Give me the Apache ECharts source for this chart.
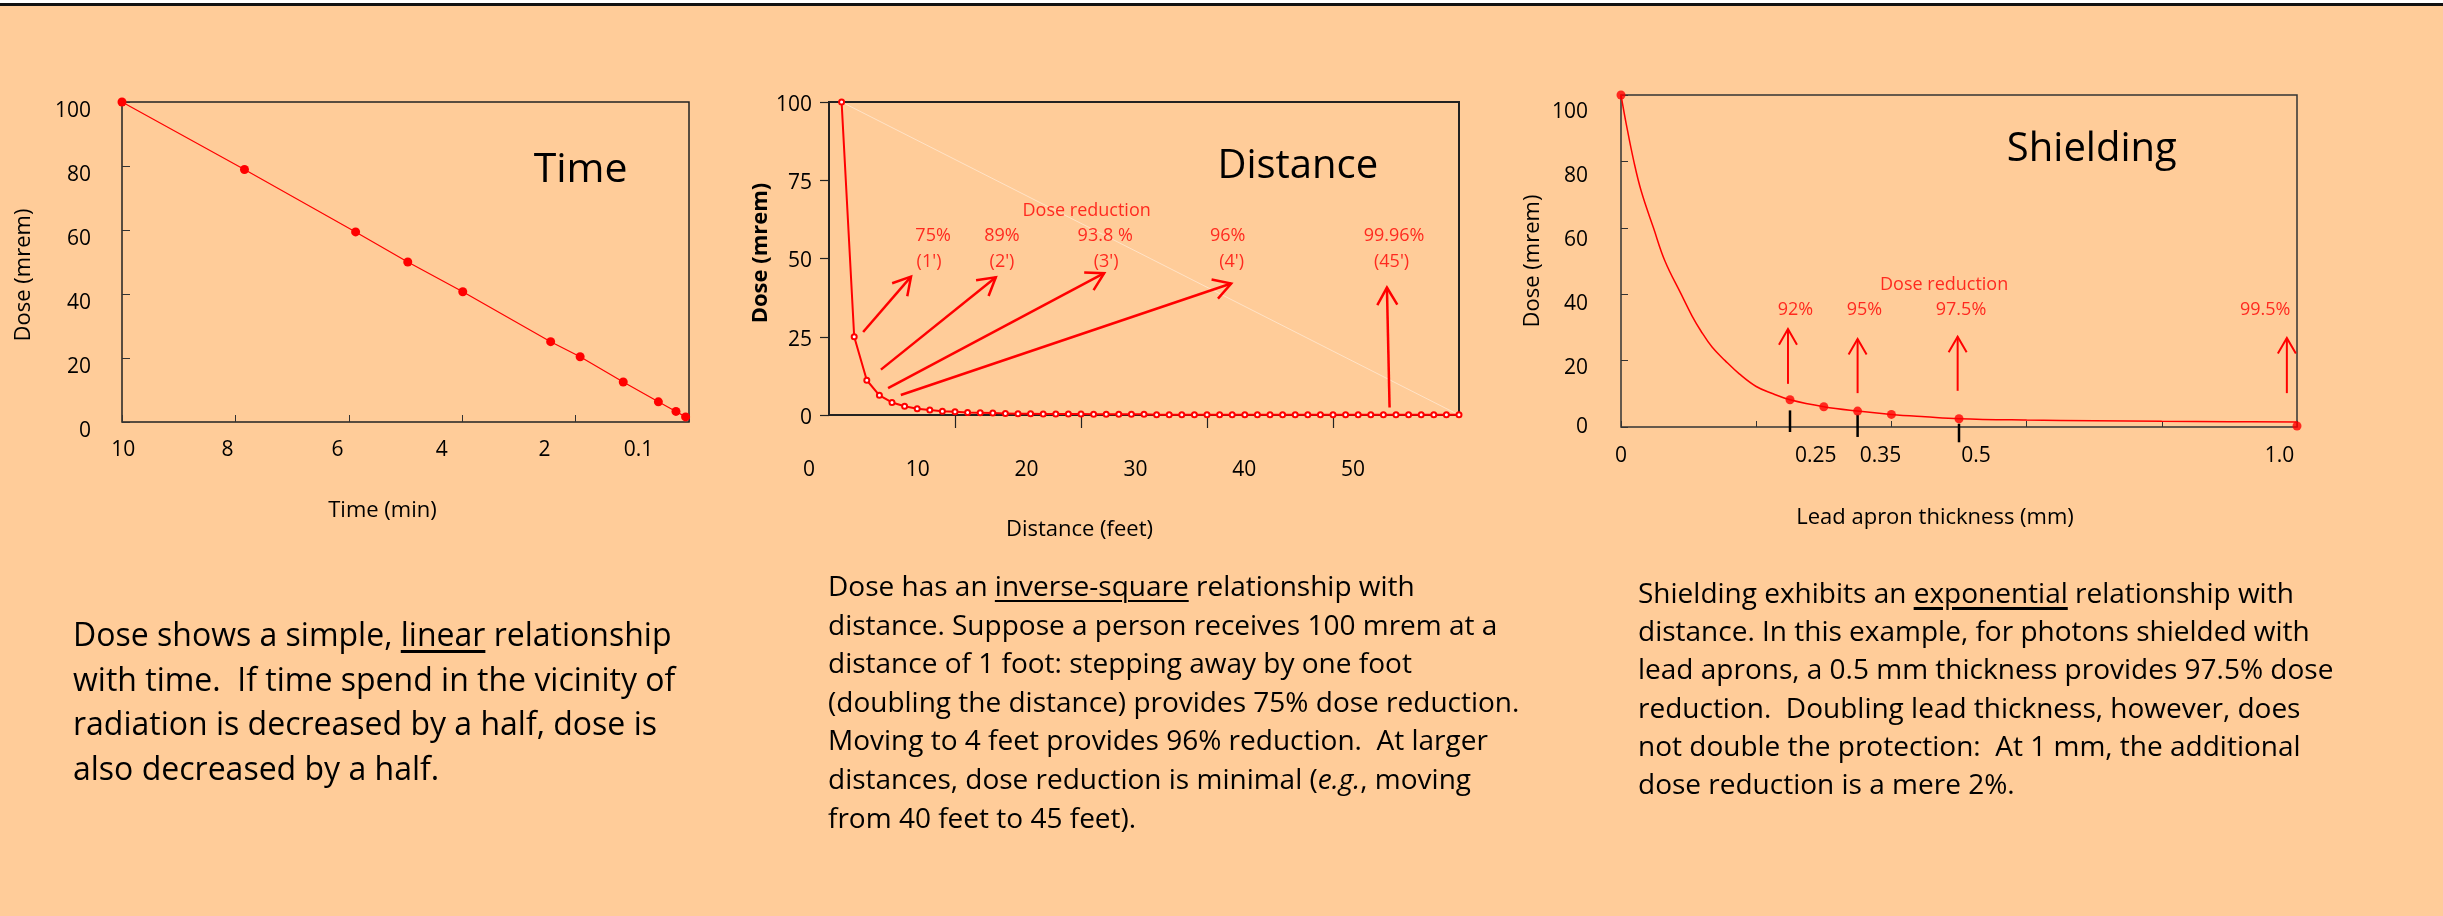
<!DOCTYPE html>
<html>
<head>
<meta charset="utf-8">
<script src="https://cdn.jsdelivr.net/npm/echarts@6/dist/echarts.min.js"></script>
<style>
  html,body{margin:0;padding:0;}
  body{width:2443px;height:916px;overflow:hidden;background:#FFCC99;position:relative;font-family:'Open Sans','DejaVu Sans',sans-serif;}
  #white{position:absolute;left:0;top:0;width:2443px;height:3px;background:#fff;}
  #bar{position:absolute;left:0;top:3px;width:2443px;height:3px;background:#111;}
  #chart{position:absolute;left:0;top:0;width:2443px;height:916px;}
  .p{position:absolute;white-space:nowrap;color:#000;}
  .p u{text-underline-offset:4px;}
</style>
</head>
<body>
<div id="white"></div>
<div id="bar"></div>
<div id="chart"></div>
<div class="p" style="left:73px;top:612px;font-size:32px;line-height:44.5px;">Dose shows a simple, <u style="text-decoration-thickness:3px">linear</u> relationship<br>with time.&nbsp; If time spend in the vicinity of<br>radiation is decreased by a half, dose is<br>also decreased by a half.</div>
<div class="p" style="left:828px;top:566px;font-size:28px;line-height:38.6px;">Dose has an <u style="text-decoration-thickness:2px">inverse-square</u> relationship with<br>distance. Suppose a person receives 100 mrem at a<br>distance of 1 foot: stepping away by one foot<br>(doubling the distance) provides 75% dose reduction.<br>Moving to 4 feet provides 96% reduction.&nbsp; At larger<br>distances, dose reduction is minimal (<i>e.g.</i>, moving<br>from 40 feet to 45 feet).</div>
<div class="p" style="left:1638px;top:573px;font-size:28px;line-height:38.2px;">Shielding exhibits an <u style="text-decoration-thickness:3px">exponential</u> relationship with<br>distance. In this example, for photons shielded with<br>lead aprons, a 0.5 mm thickness provides 97.5% dose<br>reduction.&nbsp; Doubling lead thickness, however, does<br>not double the protection:&nbsp; At 1 mm, the additional<br>dose reduction is a mere 2%.</div>
<script>
// ---------- Time panel ----------
const timeMin  = [10, 7.84, 5.88, 4.96, 3.99, 2.44, 1.92, 1.16, 0.54, 0.23, 0.06];
const timeDose = [100, 78.9, 59.4, 50.0, 40.7, 25.1, 20.4, 12.5, 6.3, 3.3, 1.6];
const timeTickLabels = ['10', '8', '6', '4', '2', '0.1'];
const timeTickLabelPos = [9.98, 8.14, 6.20, 4.36, 2.55, 0.89];

// ---------- Distance panel ----------
const distFeet = [1,2,3,4,5,6,7,8,9,10,11,12,13,14,15,16,17,18,19,20,21,22,23,24,25,26,27,28,29,30,31,32,33,34,35,36,37,38,39,40,41,42,43,44,45,46,47,48,49,50];
const distDose = [100,25,11.1,6.3,4.0,2.8,2.0,1.6,1.2,1.0,0.8,0.7,0.6,0.5,0.4,0.4,0.3,0.3,0.3,0.3,0.2,0.2,0.2,0.2,0.2,0.1,0.1,0.1,0.1,0.1,0.1,0.1,0.1,0.1,0.1,0.1,0.1,0.1,0.1,0.1,0.05,0.05,0.05,0.05,0.05,0.05,0.05,0.05,0.05,0.05];
const distTickLabels = ['0', '10', '20', '30', '40', '50'];
const distNoteText = ['Dose reduction', '75%', '(1\')', '89%', '(2\')', '93.8 %', '(3\')', '96%', '(4\')', '99.96%', '(45\')'];
const distNoteX    = [20.45, 8.26, 7.94, 13.73, 13.73, 21.92, 22.0, 31.64, 31.96, 44.85, 44.65];
const distNoteY    = [65.2, 57.2, 48.8, 57.2, 48.8, 57.2, 48.8, 57.2, 48.8, 57.2, 48.8];
// arrows: [fromX, fromY, toX, toY]
const distArrows = [[2.71,26.5,6.51,44.2],[4.12,14.5,13.24,44.0],[4.69,8.6,21.84,45.3],[5.70,6.4,31.92,42.0],[44.49,2.4,44.28,40.7]];
const distFaintLine = [[1,100,50,0]];

// ---------- Shielding panel ----------
const leadMm   = [0, 0.25, 0.30, 0.35, 0.40, 0.50, 1.0];
const leadDose = [100, 8.2, 6.1, 4.8, 3.8, 2.5, 0.3];
const leadCurveMm   = [0, 0.008, 0.019, 0.03, 0.048, 0.065, 0.089, 0.105, 0.118, 0.135, 0.154, 0.175, 0.2, 0.225, 0.25, 0.30, 0.35, 0.40, 0.45, 0.50, 0.60, 0.70, 0.80, 0.90, 1.0];
const leadCurveDose = [100, 91, 80, 71, 60, 50, 40, 33.5, 29, 24, 20, 16, 12.2, 10, 8.2, 6.1, 4.8, 3.8, 3.1, 2.5, 2.1, 1.9, 1.7, 1.6, 1.5];
const leadXTickLabels = ['0', '0.25', '0.35', '0.5', '1.0'];
const leadXTickLabelPos = [0, 0.288, 0.384, 0.525, 0.974];
const leadYTickLabels = ['100', '80', '60', '40', '20', '0'];
const leadYTickLabelPos = [95, 75.6, 56.4, 37, 17.8, 0];
const leadNoteText = ['Dose reduction', '92%', '95%', '97.5%', '99.5%'];
const leadNoteX    = [0.478, 0.258, 0.360, 0.503, 0.953];
const leadNoteY    = [42.7, 35.2, 35.2, 35.2, 35.2];
const leadArrows = [[0.247,13.0,0.247,29.5],[0.35,10.2,0.35,26.5],[0.498,10.9,0.498,27.2],[0.985,10.2,0.985,26.8]];
const leadMarks  = [[0.25,5.0,0.25,-1.5],[0.35,3.7,0.35,-3.0],[0.5,1.0,0.5,-4.6]];

const FONT = "'Open Sans','DejaVu Sans',sans-serif";
const RED = '#FF0000';

function zip(a, b) { return a.map((v, i) => [v, b[i]]); }
function mapLabel(pos, txt) {
  return function (v) {
    for (let i = 0; i < pos.length; i++) if (Math.abs(pos[i] - v) < 1e-9) return txt[i];
    return '';
  };
}
function notes(xs, ys, ts) { return ts.map((t, i) => ({ value: [xs[i], ys[i]], name: t })); }
function segRender(color, width, headLen) {
  return function (params, api) {
    const p1 = api.coord([api.value(0), api.value(1)]);
    const p2 = api.coord([api.value(2), api.value(3)]);
    const children = [{ type: 'line', shape: { x1: p1[0], y1: p1[1], x2: p2[0], y2: p2[1] },
      style: { stroke: color, lineWidth: width, lineCap: 'butt' } }];
    if (headLen) {
      const dx = p2[0] - p1[0], dy = p2[1] - p1[1];
      const L = Math.sqrt(dx * dx + dy * dy);
      const ux = dx / L, uy = dy / L;
      const a = 30 * Math.PI / 180;
      const rot = (s) => [ux * Math.cos(s) - uy * Math.sin(s), ux * Math.sin(s) + uy * Math.cos(s)];
      const r1 = rot(a), r2 = rot(-a);
      children.push({ type: 'polyline', shape: { points: [
        [p2[0] - r1[0] * headLen, p2[1] - r1[1] * headLen], [p2[0], p2[1]],
        [p2[0] - r2[0] * headLen, p2[1] - r2[1] * headLen]] },
        style: { stroke: color, lineWidth: width, fill: null, lineJoin: 'miter' } });
    }
    return { type: 'group', children: children };
  };
}

const chart = echarts.init(document.getElementById('chart'), null, { renderer: 'canvas' });
const baseLabel = { fontSize: 21, color: '#000', fontFamily: FONT };
const nameStyle = { fontSize: 22, color: '#000', fontFamily: FONT };

chart.setOption({
  animation: false,
  textStyle: { fontFamily: FONT },
  graphic: [
    { type: 'text', x: 580.6, y: 170, style: { text: 'Time', font: '41px ' + FONT, fill: '#000', textAlign: 'center', textVerticalAlign: 'middle' } },
    { type: 'text', x: 1297.8, y: 167, style: { text: 'Distance', font: '40px ' + FONT, fill: '#000', textAlign: 'center', textVerticalAlign: 'middle' } },
    { type: 'text', x: 2091.8, y: 150, style: { text: 'Shielding', font: '40px ' + FONT, fill: '#000', textAlign: 'center', textVerticalAlign: 'middle' } }
  ],
  grid: [
    { left: 122, top: 102, width: 567, height: 320, show: true, borderColor: '#222', borderWidth: 1.5 },
    { left: 829, top: 102, width: 630, height: 313, show: true, borderColor: '#222', borderWidth: 2 },
    { left: 1621, top: 95, width: 676, height: 332, show: true, borderColor: '#333', borderWidth: 1.5 },
    { left: 809, top: 102, width: 544, height: 313, show: false }
  ],
  xAxis: [
    { gridIndex: 0, type: 'value', inverse: true, min: 0, max: 10, interval: 2, position: 'bottom',
      axisLine: { show: false, onZero: false }, splitLine: { show: false },
      axisTick: { inside: true, length: 7, lineStyle: { color: '#333' } },
      axisLabel: Object.assign({}, baseLabel, { customValues: timeTickLabelPos, formatter: mapLabel(timeTickLabelPos, timeTickLabels), margin: 18 }),
      name: 'Time (min)', nameLocation: 'middle', nameGap: 78,
      nameTextStyle: Object.assign({}, nameStyle, { padding: [0, 46, 0, 0] }) },
    { gridIndex: 1, type: 'value', min: 0, max: 50, interval: 10, position: 'bottom',
      axisLine: { show: false, onZero: false }, splitLine: { show: false },
      axisTick: { inside: false, length: 13, customValues: [10, 20, 30, 40], lineStyle: { color: '#222', width: 1.2 } },
      axisLabel: { show: false },
      name: 'Distance (feet)', nameLocation: 'middle', nameGap: 104,
      nameTextStyle: Object.assign({}, nameStyle, { padding: [0, 129, 0, 0] }) },
    { gridIndex: 2, type: 'value', min: 0, max: 1, interval: 0.2, position: 'bottom',
      axisLine: { show: false, onZero: false }, splitLine: { show: false },
      axisTick: { inside: true, length: 6, lineStyle: { color: '#333' } },
      axisLabel: Object.assign({}, baseLabel, { customValues: leadXTickLabelPos, formatter: mapLabel(leadXTickLabelPos, leadXTickLabels), margin: 19 }),
      name: 'Lead apron thickness (mm)', nameLocation: 'middle', nameGap: 80,
      nameTextStyle: Object.assign({}, nameStyle, { padding: [0, 48, 0, 0] }) },
    { gridIndex: 3, type: 'category', data: distTickLabels, boundaryGap: false, position: 'bottom',
      axisLine: { show: false, onZero: false }, axisTick: { show: false }, splitLine: { show: false },
      axisLabel: Object.assign({}, baseLabel, { margin: 45, interval: 0 }) }
  ],
  yAxis: [
    { gridIndex: 0, type: 'value', min: 0, max: 100, interval: 20, position: 'left',
      axisLine: { show: false, onZero: false }, splitLine: { show: false },
      axisTick: { inside: true, length: 8, lineStyle: { color: '#333' } },
      axisLabel: Object.assign({}, baseLabel, { margin: 31, verticalAlign: 'top', lineHeight: 18 }),
      name: 'Dose (mrem)', nameLocation: 'middle', nameGap: 87,
      nameTextStyle: Object.assign({}, nameStyle, { padding: [0, 26, 0, 0] }) },
    { gridIndex: 1, type: 'value', min: 0, max: 100, interval: 25, position: 'left',
      axisLine: { show: false, onZero: false }, splitLine: { show: false },
      axisTick: { inside: false, length: 9, lineStyle: { color: '#222', width: 1.2 } },
      axisLabel: Object.assign({}, baseLabel, { margin: 17, verticalAlign: 'top', lineHeight: 6 }),
      name: 'Dose (mrem)', nameLocation: 'middle', nameGap: 56,
      nameTextStyle: Object.assign({}, nameStyle, { fontWeight: 'bold', padding: [0, 0, 0, 11] }) },
    { gridIndex: 2, type: 'value', min: 0, max: 100, interval: 20, position: 'left',
      axisLine: { show: false, onZero: false }, splitLine: { show: false },
      axisTick: { inside: true, length: 7, lineStyle: { color: '#333' } },
      axisLabel: Object.assign({}, baseLabel, { customValues: leadYTickLabelPos, formatter: mapLabel(leadYTickLabelPos, leadYTickLabels), margin: 33 }),
      name: 'Dose (mrem)', nameLocation: 'middle', nameGap: 77,
      nameTextStyle: nameStyle },
    { gridIndex: 3, type: 'value', show: false, min: 0, max: 100 }
  ],
  series: [
    // Time
    { type: 'line', xAxisIndex: 0, yAxisIndex: 0, data: zip(timeMin, timeDose),
      symbol: 'circle', symbolSize: 9, itemStyle: { color: RED }, lineStyle: { color: RED, width: 1.2 }, clip: false },
    // Distance
    { type: 'custom', xAxisIndex: 1, yAxisIndex: 1, data: distFaintLine, z: 1,
      renderItem: segRender('rgba(255,255,255,0.45)', 1, 0) },
    { type: 'line', xAxisIndex: 1, yAxisIndex: 1, data: zip(distFeet, distDose),
      symbol: 'emptyCircle', symbolSize: 5, itemStyle: { color: RED, borderWidth: 1 }, lineStyle: { color: RED, width: 2 }, clip: false },
    { type: 'custom', xAxisIndex: 1, yAxisIndex: 1, data: distArrows, z: 5,
      renderItem: segRender(RED, 2.5, 20) },
    { type: 'scatter', xAxisIndex: 1, yAxisIndex: 1, data: notes(distNoteX, distNoteY, distNoteText),
      symbolSize: 1, itemStyle: { color: 'rgba(0,0,0,0)' },
      label: { show: true, position: 'inside', formatter: '{b}', color: RED, fontSize: 18, fontFamily: FONT } },
    // Shielding
    { type: 'line', xAxisIndex: 2, yAxisIndex: 2, data: zip(leadCurveMm, leadCurveDose),
      smooth: 0.4, showSymbol: false, symbol: 'none', lineStyle: { color: RED, width: 1.5 } },
    { type: 'scatter', xAxisIndex: 2, yAxisIndex: 2, data: zip(leadMm, leadDose),
      symbol: 'circle', symbolSize: 9, itemStyle: { color: RED }, clip: false, z: 4 },
    { type: 'custom', xAxisIndex: 2, yAxisIndex: 2, data: leadMarks, z: 3,
      renderItem: segRender('#000', 2.5, 0) },
    { type: 'custom', xAxisIndex: 2, yAxisIndex: 2, data: leadArrows, z: 5,
      renderItem: segRender(RED, 2, 18) },
    { type: 'scatter', xAxisIndex: 2, yAxisIndex: 2, data: notes(leadNoteX, leadNoteY, leadNoteText),
      symbolSize: 1, itemStyle: { color: 'rgba(0,0,0,0)' },
      label: { show: true, position: 'inside', formatter: '{b}', color: RED, fontSize: 18, fontFamily: FONT } }
  ]
});
</script>
</body>
</html>
